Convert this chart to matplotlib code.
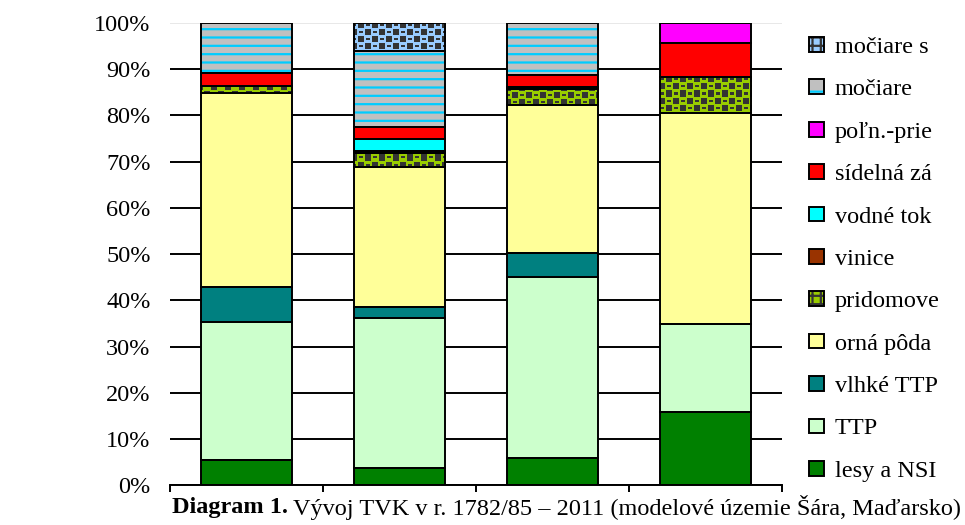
import numpy as np
import matplotlib
matplotlib.use("Agg")
import matplotlib.pyplot as plt
from matplotlib.patches import Patch
from matplotlib.transforms import Bbox

# obdobia (na osi x nie sú popísané)
obdobia = ['1782/85', 'obd. 2', 'obd. 3', '2011']

# podiely kategórií TVK v % (zdola nahor)
lesy = [5.5, 3.7, 5.8, 15.8]
ttp = [29.8, 32.4, 39.3, 19.0]
vlhke_ttp = [7.7, 2.5, 5.2, 0.0]
orna = [41.8, 30.3, 32.0, 45.7]
pridomove = [1.6, 2.9, 3.4, 7.8]
vinice = [0.0, 0.6, 0.5, 0.0]
vodne = [0.0, 2.4, 0.0, 0.0]
sidelna = [2.8, 2.6, 2.6, 7.4]
poln_prie = [0.0, 0.0, 0.0, 4.3]
mociare = [10.8, 16.6, 11.2, 0.0]
mociare_s = [0.0, 6.0, 0.0, 0.0]

# názvy tak, ako sú viditeľné (v origináli orezané pravým okrajom)
nazvy = ['lesy a NSI', 'TTP', 'vlhké TTP', 'orná pôda', 'pridomove',
         'vinice', 'vodné tok', 'sídelná zá', 'poľn.-prie',
         'močiare', 'močiare s']
farby = ['#008000', '#ccffcc', '#008080', '#ffff99', '#99cc00',
         '#993300', '#00ffff', '#ff0000', '#ff00ff', '#c0c0c0', '#99ccff']
vzor = [None, None, None, None, 'checker', None, None, None, None, 'lines', 'checker']
serie = [lesy, ttp, vlhke_ttp, orna, pridomove, vinice, vodne, sidelna,
         poln_prie, mociare, mociare_s]

plt.rcParams['font.family'] = ['Liberation Serif', 'DejaVu Serif']
plt.rcParams['hatch.linewidth'] = 1.6

fig = plt.figure(figsize=(9.65, 5.25), dpi=100)
ax = fig.add_axes([170 / 965, 39.7 / 525, 612 / 965, 462.3 / 525])
ax.set_xlim(-0.5, 3.5)
ax.set_ylim(0, 100)

x = np.arange(len(obdobia))
sirka = 0.6


def sachovnica(patch, fg, bg):
    # vzor tmavých štvorčekov orezaný na obdĺžnik stĺpca
    x0, y0 = patch.get_x(), patch.get_y()
    w, h = patch.get_width(), patch.get_height()
    p0 = ax.transData.transform((x0, y0))
    p1 = ax.transData.transform((x0 + w, y0 + h))
    nx = max(int(round(p1[0] - p0[0])), 1)
    ny = max(int(round(p1[1] - p0[1])), 1)
    tile = np.zeros((14, 14), dtype=bool)
    tile[0:6, 0:6] = True
    tile[7:13, 7:13] = True
    tile[2:4, 8:12] = True
    tile[9:11, 1:5] = True
    off_x = int(p0[0]) % 14
    off_y = int(p0[1]) % 14
    big = np.tile(tile, (ny // 14 + 3, nx // 14 + 3))
    mask = big[off_y:off_y + ny, off_x:off_x + nx]
    img = np.where(mask[..., None], np.array(fg), np.array(bg))
    im = ax.imshow(img, extent=(x0, x0 + w, y0, y0 + h), origin='lower',
                   interpolation='nearest', aspect='auto', zorder=2.2)
    im.set_clip_path(patch)


def rgb(c):
    return np.array(matplotlib.colors.to_rgb(c))


spodok = np.zeros(len(obdobia))
for hodnoty, farba, v in zip(serie, farby, vzor):
    hodnoty = np.array(hodnoty)
    for i in range(len(x)):
        if hodnoty[i] <= 0:
            continue
        if v == 'lines':
            ax.bar(x[i], hodnoty[i], sirka, bottom=spodok[i], facecolor=farba,
                   edgecolor='#00ccff', hatch='--', linewidth=0, zorder=2)
        else:
            bars = ax.bar(x[i], hodnoty[i], sirka, bottom=spodok[i],
                          color=farba, linewidth=0, zorder=2)
            if v == 'checker':
                sachovnica(bars[0], rgb('#333333'), rgb(farba))
        ax.bar(x[i], hodnoty[i], sirka, bottom=spodok[i], fill=False,
               edgecolor='black', linewidth=1.4, zorder=3)
    spodok += hodnoty

# osi a mriežka
for s in ['left', 'right', 'top']:
    ax.spines[s].set_visible(False)
ax.spines['bottom'].set_linewidth(1.4)
ax.set_yticks(range(0, 101, 10))
ax.set_yticklabels([f'{v}%' for v in range(0, 101, 10)], fontsize=17.5)
ax.tick_params(axis='y', length=0, pad=14)
ax.set_xticks([-0.5, 0.5, 1.5, 2.5, 3.5])
ax.set_xticklabels([])
ax.tick_params(axis='x', length=5, width=1.4, direction='out')
ax.yaxis.grid(True, color='black', linewidth=1.4, zorder=0)
ax.set_axisbelow(True)
ax.get_ygridlines()[-1].set_color('#e8e8e8')

# legenda (obrátené poradie)
handles = []
for farba, v in zip(farby, vzor):
    if v == 'lines':
        h = (Patch(facecolor=farba, edgecolor='#00ccff', hatch='-', linewidth=0),
             Patch(fill=False, edgecolor='black', linewidth=1.4))
    elif v == 'checker':
        h = (Patch(facecolor=farba, edgecolor='#333333', hatch='++', linewidth=0),
             Patch(fill=False, edgecolor='black', linewidth=1.4))
    else:
        h = Patch(facecolor=farba, edgecolor='black', linewidth=1.4)
    handles.append(h)
leg = fig.legend(handles[::-1], nazvy[::-1], loc='upper left',
                 bbox_to_anchor=(809 / 965, 1 - 37 / 525), frameon=False,
                 fontsize=17.5, handlelength=0.6, handleheight=0.55,
                 handletextpad=0.45, labelspacing=0.88, borderaxespad=0,
                 borderpad=0)
for t in leg.get_texts():
    t.set_clip_box(Bbox.from_extents(0, 0, 940, 525))
    t.set_clip_on(True)

# popis diagramu
fig.canvas.draw()
t1 = fig.text(172 / 965, 18 / 525, 'Diagram 1.', fontsize=17.5,
              fontweight='bold', va='center', ha='left')
r = fig.canvas.get_renderer()
bb = t1.get_window_extent(r)
fig.text((bb.x1 + 5) / 965, 18 / 525,
         'Vývoj TVK v r. 1782/85 – 2011 (modelové územie Šára, Maďarsko)',
         fontsize=17.5, va='center', ha='left')

fig.savefig('out.png', dpi=100)
